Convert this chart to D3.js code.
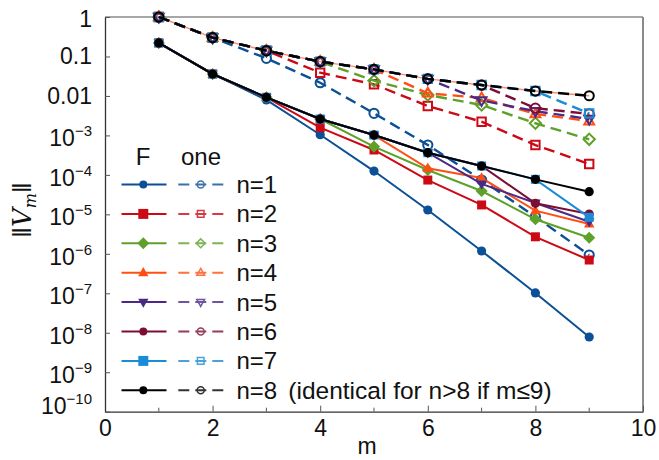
<!DOCTYPE html>
<html>
<head>
<meta charset="utf-8">
<script src="https://cdn.jsdelivr.net/npm/d3@7/dist/d3.min.js"></script>
<style>
  html, body { margin: 0; padding: 0; background: #fff; }
  svg { display: block; font-family: "Liberation Sans", Arial, Helvetica, sans-serif; }
</style>
</head>
<body>
<svg id="chart" width="659" height="460"></svg>
<script>
// ---- data ----
const mVals = [1, 2, 3, 4, 5, 6, 7, 8, 9];
const seriesNames = ["n=1", "n=2", "n=3", "n=4", "n=5", "n=6", "n=7", "n=8"];

const F_n1 = [0.22, 0.036, 7.9e-3, 1.04e-3, 1.25e-4, 1.29e-5, 1.18e-6, 1.02e-7, 7.8e-9];
const F_n2 = [0.22, 0.036, 9.2e-3, 1.57e-3, 4.27e-4, 7.4e-5, 1.73e-5, 2.7e-6, 6.97e-7];
const F_n3 = [0.22, 0.036, 9.2e-3, 2.6e-3, 5.2e-4, 1.33e-4, 3.9e-5, 7.5e-6, 2.56e-6];
const F_n4 = [0.22, 0.036, 9.2e-3, 2.6e-3, 1.02e-3, 1.47e-4, 8.3e-5, 1.24e-5, 5.7e-6];
const F_n5 = [0.22, 0.036, 9.2e-3, 2.6e-3, 1.02e-3, 3.65e-4, 5.9e-5, 1.94e-5, 6.5e-6];
const F_n6 = [0.22, 0.036, 9.2e-3, 2.6e-3, 1.02e-3, 3.65e-4, 1.68e-4, 1.9e-5, 1.02e-5];
const F_n7 = [0.22, 0.036, 9.2e-3, 2.6e-3, 1.02e-3, 3.65e-4, 1.68e-4, 7.7e-5, 8.4e-6];
const F_n8 = [0.22, 0.036, 9.2e-3, 2.6e-3, 1.02e-3, 3.65e-4, 1.68e-4, 7.7e-5, 3.75e-5];

const one_n1 = [1, 0.30, 0.090, 0.0216, 3.63e-3, 5.7e-4, 7.4e-5, 8.7e-6, 9.3e-7];
const one_n2 = [1, 0.30, 0.14, 0.0388, 0.0197, 5.56e-3, 2.22e-3, 5.7e-4, 1.89e-4];
const one_n3 = [1, 0.30, 0.14, 0.074, 0.0243, 0.0106, 5.9e-3, 2.03e-3, 7.96e-4];
const one_n4 = [1, 0.30, 0.14, 0.074, 0.047, 0.0117, 8.9e-3, 3.5e-3, 2.3e-3];
const one_n5 = [1, 0.30, 0.14, 0.074, 0.047, 0.027, 7.7e-3, 4.1e-3, 2.6e-3];
const one_n6 = [1, 0.30, 0.14, 0.074, 0.047, 0.027, 0.0189, 4.9e-3, 3.5e-3];
const one_n7 = [1, 0.30, 0.14, 0.074, 0.047, 0.027, 0.0189, 0.0133, 3.6e-3];
const one_n8 = [1, 0.30, 0.14, 0.074, 0.047, 0.027, 0.0189, 0.0133, 0.0101];

const xTicks = [0, 2, 4, 6, 8, 10];
const xMinorTicks = [1, 3, 5, 7, 9];
const yTicks = [1, 0.1, 0.01, 1e-3, 1e-4, 1e-5, 1e-6, 1e-7, 1e-8, 1e-9, 1e-10];
const yTickLabels = ["1", "0.1", "0.01", "10|−3", "10|−4", "10|−5", "10|−6", "10|−7", "10|−8", "10|−9", "10|−10"];
const noteText = "(identical for n>8 if m\u22649)";

// ---- styling ----
const colors = ["#0b4f96", "#cc0a16", "#5ea12a", "#ff4e14", "#4a2a86", "#7c0d33", "#1a8bd6", "#000000"];
const shapes = ["circle", "square", "diamond", "tri", "tridown", "circle", "square", "circle"];
const Fdata = [F_n1, F_n2, F_n3, F_n4, F_n5, F_n6, F_n7, F_n8];
const oneData = [one_n1, one_n2, one_n3, one_n4, one_n5, one_n6, one_n7, one_n8];

const svg = d3.select("#chart");
const x = d3.scaleLinear().domain([0, 10]).range([105, 643]);
const y = d3.scaleLog().domain([1e-10, 1]).range([411.7, 17]);

function markerPath(type, s) {
  switch (type) {
    case "circle": return `M${s},0A${s},${s} 0 1,1 ${-s},0A${s},${s} 0 1,1 ${s},0Z`;
    case "square": return `M${-s},${-s}H${s}V${s}H${-s}Z`;
    case "diamond": { const d = s * 1.35; return `M0,${-d}L${d},0L0,${d}L${-d},0Z`; }
    case "tri": { const t = s * 1.3; return `M0,${-t}L${t * 0.9},${t * 0.6}L${-t * 0.9},${t * 0.6}Z`; }
    case "tridown": { const t = s * 1.3; return `M0,${t}L${t * 0.9},${-t * 0.6}L${-t * 0.9},${-t * 0.6}Z`; }
  }
}

// ---- frame ----
const fr = svg.append("g");
fr.append("line").attr("x1", x(0)).attr("x2", x(10)).attr("y1", y(1)).attr("y2", y(1))
  .attr("stroke", "#8a8a8a").attr("stroke-width", 1.5);
fr.append("line").attr("x1", x(10)).attr("x2", x(10)).attr("y1", y(1)).attr("y2", y(1e-10))
  .attr("stroke", "#8a8a8a").attr("stroke-width", 2);

// ---- axes ----
const xAxis = d3.axisBottom(x).tickValues(xTicks).tickSizeInner(-6).tickSizeOuter(0).tickPadding(8).tickFormat(d3.format("d"));
const gx = svg.append("g").attr("transform", `translate(0,${y(1e-10)})`).call(xAxis);
gx.select(".domain").attr("stroke", "#333").attr("stroke-width", 1.3);
gx.selectAll(".tick line").attr("stroke", "#555");
gx.selectAll(".tick text").attr("font-size", 23).attr("fill", "#111").attr("font-family", "Liberation Sans, Arial, sans-serif");
gx.selectAll(".minor").data(xMinorTicks).enter().append("line")
  .attr("x1", d => x(d)).attr("x2", d => x(d)).attr("y1", 0).attr("y2", -4).attr("stroke", "#555");

const yAxis = d3.axisLeft(y).tickValues(yTicks).tickSizeInner(-5).tickSizeOuter(0).tickFormat("");
const gy = svg.append("g").attr("transform", `translate(${x(0)},0)`).call(yAxis);
gy.select(".domain").attr("stroke", "#333").attr("stroke-width", 1.3);
gy.selectAll(".tick line").attr("stroke", "#555");

// y tick labels
const yl = svg.append("g").attr("font-size", 23).attr("fill", "#111").attr("text-anchor", "end");
yTicks.forEach((v, i) => {
  const lab = yTickLabels[i];
  let yy = y(v);
  const t = yl.append("text").attr("x", 92);
  if (lab.includes("|")) {
    const [base, exp] = lab.split("|");
    let by = yy + 11;
    if (i === yTicks.length - 1) by = yy + 2;
    t.attr("y", by);
    t.append("tspan").text(base);
    t.append("tspan").attr("font-size", 15).attr("dy", -10).text(exp);
  } else {
    let by = yy + 8;
    if (i === 0) by = yy + 10;
    t.attr("y", by).text(lab);
  }
});

// axis titles
svg.append("text").attr("x", 367).attr("y", 454).attr("text-anchor", "middle")
  .attr("font-size", 23).attr("fill", "#111").text("m");
const yt = svg.append("text").attr("transform", "translate(31,210) rotate(-90)")
  .attr("text-anchor", "middle").attr("font-size", 26).attr("fill", "#111");
yt.append("tspan").text("\u2016");
yt.append("tspan").attr("font-style", "italic").attr("font-family", "DejaVu Serif, serif").text("V");
yt.append("tspan").attr("font-style", "italic").attr("font-family", "DejaVu Serif, serif").attr("font-size", 16).attr("dy", 5).text("m");
yt.append("tspan").attr("dy", -5).text("\u2016");

// ---- data lines ----
const line = d3.line().x((d, i) => x(mVals[i])).y(d => y(d));
const plot = svg.append("g");

// thin limit line (n>8 identical)
plot.append("path").attr("d", line(one_n8)).attr("fill", "none")
  .attr("stroke", "#ff8a6a").attr("stroke-width", 1.4);

for (let k = 0; k < 8; k++) {
  const c = colors[k];
  // F : solid, filled markers
  plot.append("path").attr("d", line(Fdata[k])).attr("fill", "none")
    .attr("stroke", c).attr("stroke-width", 2);
  plot.selectAll(null).data(Fdata[k]).enter().append("path")
    .attr("transform", (d, i) => `translate(${x(mVals[i])},${y(d)})`)
    .attr("d", markerPath(shapes[k], shapes[k] === "circle" ? 4.6 : 4.5))
    .attr("fill", c).attr("stroke", "none");
  // one : dashed, open markers
  plot.append("path").attr("d", line(oneData[k])).attr("fill", "none")
    .attr("stroke", c).attr("stroke-width", 2.4).attr("stroke-dasharray", "11,6");
  plot.selectAll(null).data(oneData[k]).enter().append("path")
    .attr("transform", (d, i) => `translate(${x(mVals[i])},${y(d)})`)
    .attr("d", markerPath(shapes[k], shapes[k] === "circle" ? 4.6 : 4.2))
    .attr("fill", "none").attr("stroke", c).attr("stroke-width", 2);
}

// ---- legend ----
const lg = svg.append("g");
lg.append("text").attr("x", 143).attr("y", 165).attr("text-anchor", "middle").attr("font-size", 24).attr("fill", "#111").text("F");
lg.append("text").attr("x", 201).attr("y", 165).attr("text-anchor", "middle").attr("font-size", 24).attr("fill", "#111").text("one");
const rowY = d3.scaleLinear().domain([0, 7]).range([184.5, 390.3]);
seriesNames.forEach((name, k) => {
  const ry = rowY(k), c = colors[k];
  lg.append("line").attr("x1", 121.5).attr("x2", 166.5).attr("y1", ry).attr("y2", ry)
    .attr("stroke", c).attr("stroke-width", 2);
  lg.append("path").attr("transform", `translate(143.3,${ry})`)
    .attr("d", markerPath(shapes[k], shapes[k] === "circle" ? 4 : (shapes[k] === "square" ? 5 : 4.4))).attr("fill", c);
  const og = lg.append("g").attr("opacity", 0.8);
  og.append("line").attr("x1", 178.3).attr("x2", 224).attr("y1", ry).attr("y2", ry)
    .attr("stroke", c).attr("stroke-width", 2).attr("stroke-dasharray", "11,6");
  og.append("path").attr("transform", `translate(200.7,${ry})`)
    .attr("d", markerPath(shapes[k], shapes[k] === "circle" ? 3.5 : 3.3)).attr("fill", "none")
    .attr("stroke", c).attr("stroke-width", 1.5);
  lg.append("text").attr("x", 236.5).attr("y", ry + 8.5).attr("font-size", 24).attr("fill", "#111").text(name);
});
lg.append("text").attr("x", 288.3).attr("y", rowY(7) + 8.5).attr("font-size", 24.5).attr("fill", "#111").text(noteText);
</script>
</body>
</html>
